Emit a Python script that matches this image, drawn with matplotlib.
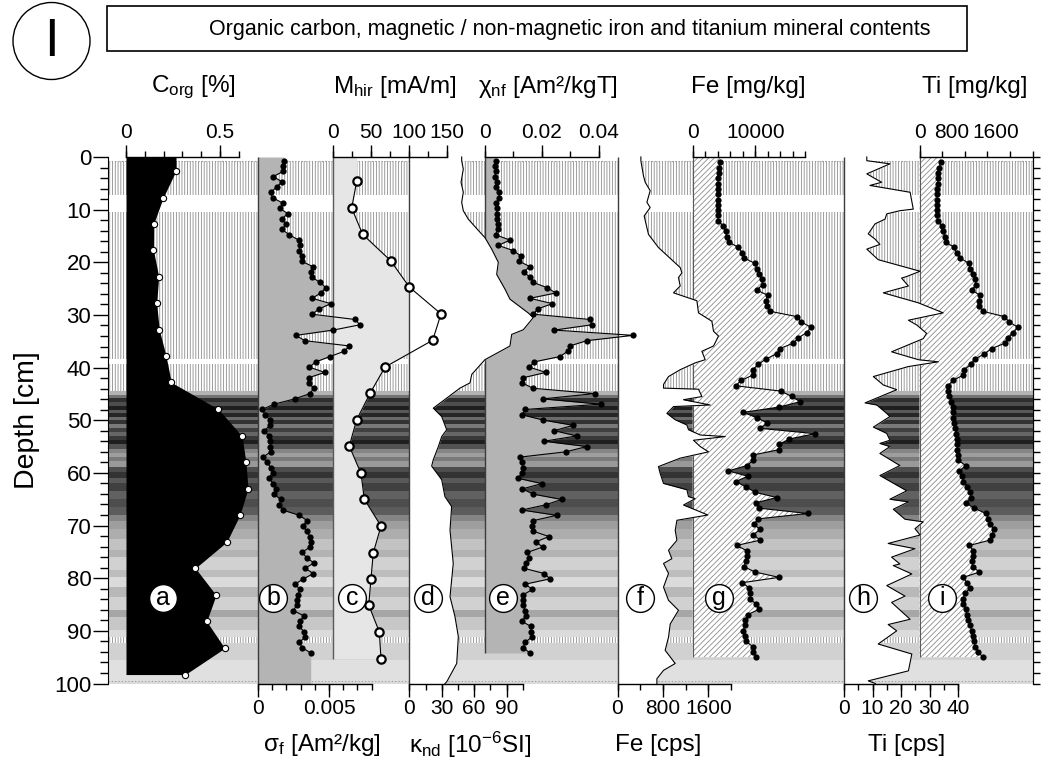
import numpy as np
import matplotlib.pyplot as plt
from matplotlib.patches import Circle, Rectangle

plt.rcParams['font.family'] = ['Liberation Sans', 'DejaVu Sans']
plt.rcParams['mathtext.fontset'] = 'custom'
plt.rcParams['mathtext.rm'] = 'Liberation Sans'
plt.rcParams['mathtext.it'] = 'Liberation Sans:italic'
plt.rcParams['mathtext.bf'] = 'Liberation Sans:bold'
plt.rcParams['hatch.linewidth'] = 0.6
plt.rcParams['hatch.color'] = '#8c8c8c'

# ---------------- data ----------------
corg_depth = [2.6, 7.7, 12.7, 17.7, 22.7, 27.8, 32.8, 37.8, 42.8, 47.9,
              53.0, 58.0, 63.0, 68.0, 73.1, 78.1, 83.2, 88.2, 93.3, 98.3]
corg = [0.266, 0.198, 0.147, 0.146, 0.174, 0.163, 0.177, 0.213, 0.241, 0.491,
        0.617, 0.638, 0.649, 0.606, 0.536, 0.369, 0.479, 0.429, 0.525, 0.315]

# magnetic samples, ~1 cm spacing
mag_depth = np.linspace(0.7, 94.2, 94)
sigma_f = np.array([
    1.81, 1.76, 1.78, 1.08, 1.69, 1.31, 0.89, 1.03, 1.74, 1.55,
    2.09, 1.69, 1.97, 1.71, 2.20, 2.87, 2.96, 2.91, 3.08, 3.08,
    3.85, 3.75, 3.80, 4.37, 4.79, 4.41, 3.82, 5.12, 4.32, 3.80,
    6.83, 7.18, 5.30, 2.68, 3.29, 6.43, 6.08, 5.07, 4.08, 3.61,
    4.70, 3.57, 3.57, 3.92, 3.66, 2.58, 1.13, 0.30, 0.49, 0.85,
    0.85, 0.44, 0.75, 0.85, 0.87, 0.89, 0.37, 0.61, 0.92, 1.03,
    0.75, 1.08, 1.25, 1.13, 1.60, 1.50, 1.74, 2.91, 3.47, 3.15,
    3.43, 3.66, 3.71, 3.66, 3.10, 3.43, 3.94, 3.31, 3.90, 3.20,
    2.61, 2.96, 2.82, 2.77, 2.72, 2.49, 3.24, 2.96, 2.89, 3.26,
    3.33, 2.91, 3.12, 3.71]) * 1e-3
chi_nf = np.array([
    3.77, 3.52, 3.77, 3.52, 4.12, 3.77, 5.04, 5.04, 3.87, 4.12,
    4.12, 4.12, 4.68, 4.47, 3.77, 8.80, 4.68, 10.0, 12.6, 12.0,
    15.8, 13.6, 15.8, 17.0, 21.9, 24.9, 15.8, 23.7, 18.6, 17.0,
    37.0, 37.7, 24.4, 52.2, 35.8, 29.9, 29.1, 26.4, 17.4, 15.6,
    21.4, 13.5, 13.1, 17.0, 38.7, 20.3, 40.7, 14.1, 13.0, 20.5,
    31.1, 24.3, 32.3, 20.8, 35.8, 28.5, 12.3, 13.0, 13.3, 13.0,
    11.6, 20.0, 13.2, 17.0, 27.0, 21.4, 13.0, 25.2, 17.0, 16.7,
    17.0, 22.5, 18.0, 20.3, 14.9, 15.6, 14.5, 13.7, 20.9, 22.9,
    14.2, 16.7, 13.5, 13.5, 13.5, 14.1, 14.4, 12.9, 16.2, 16.2,
    16.5, 14.1, 13.5, 15.8]) * 1e-3

mhir_depth = [4.6, 9.7, 14.7, 19.7, 24.7, 29.8, 34.8, 39.9, 44.9, 49.9,
              54.9, 60.1, 65.0, 70.1, 75.2, 80.1, 85.1, 90.2, 95.3]
mhir = [30.9, 24.3, 38.8, 75.8, 100.4, 142.3, 131.3, 68.3, 48.5, 30.9,
        21.1, 36.6, 41.0, 63.0, 52.8, 49.8, 46.8, 60.8, 63.0]

kappa_depth = [0.0, 0.7, 2.3, 4.8, 6.7, 8.6, 10.2, 11.8, 14.3, 15.3, 17.5, 20.0,
               22.3, 25.1, 27.0, 29.6, 30.5, 32.8, 33.7, 35.9, 38.5, 41.3,
               42.9, 43.9, 45.8, 47.7, 49.3, 51.8, 53.1, 55.0, 57.5, 58.7,
               61.3, 64.5, 66.4, 70.9, 77.2, 83.5, 87.3, 91.1, 96.2, 99.7, 100.0]
kappa = [48.5, 48.5, 50.0, 47.9, 50.0, 48.5, 50.0, 54.6, 65.5, 70.0, 76.3, 82.4,
         80.9, 88.6, 93.2, 110.0, 114.8, 105.6, 94.8, 93.2, 70.0, 57.8,
         56.2, 46.9, 34.6, 22.2, 30.0, 34.6, 30.0, 26.9, 22.2, 20.7,
         30.0, 33.0, 39.2, 37.7, 40.7, 37.7, 42.3, 45.4, 43.9, 34.6, 33.0]

fe_cps_depth = [0.0, 0.7, 3.6, 4.8, 6.4, 8.6, 9.6, 11.2, 14.7, 17.2, 21.0, 22.0,
                22.9, 24.5, 25.8, 27.3, 29.6, 31.2, 33.1, 34.0, 35.9, 36.9,
                38.5, 39.1, 40.4, 41.7, 43.2, 43.9, 44.1, 45.5, 46.1, 47.1,
                47.4, 48.7, 49.9, 50.9, 51.8, 52.8, 53.1, 53.8, 55.0, 56.0,
                57.2, 58.8, 60.1, 62.0, 63.2, 64.5, 64.9, 66.1, 67.0, 68.0,
                69.0, 70.9, 72.8, 74.7, 76.3, 77.2, 79.1, 81.7, 84.2, 86.1,
                88.7, 91.2, 93.7, 96.2, 97.5, 99.1, 100.0]
fe_cps = [412, 412, 458, 488, 576, 518, 576, 470, 546, 722, 1105, 1135,
          1075, 1105, 987, 1399, 1427, 1663, 1692, 1780, 1692, 1487,
          1545, 1369, 1105, 899, 811, 811, 1427, 1487, 1163, 1633,
          987, 870, 1017, 1223, 1251, 1458, 1898, 1339, 1458, 1604,
          1105, 722, 752, 811, 1223, 1251, 1369, 1163, 1369, 1593,
          1047, 1017, 1047, 899, 958, 811, 899, 811, 899, 1075,
          929, 899, 840, 1017, 811, 694, 694]

# XRF samples, ~1 cm spacing
xrf_depth = np.linspace(1.0, 95.0, 94)
fe_mgkg = [
    4360, 4250, 4150, 4090, 4090, 4090, 4090, 4090, 4090, 4090,
    4000, 4090, 4890, 5270, 5430, 5800, 7280, 7920, 8200, 9950,
    10220, 10640, 11020, 11180, 10220, 11980, 11710, 11820, 12350, 16610,
    17300, 18900, 18210, 16870, 16070, 13950, 13420, 11660, 10480, 9590,
    9590, 7720, 6870, 14060, 15820, 17140, 13790, 8080, 10220, 11920,
    10750, 19540, 15430, 13790, 13790, 9680, 9680, 8630, 5690, 8790,
    6870, 8510, 9950, 13420, 10060, 10590, 18370, 10480, 9790, 10750,
    9680, 10800, 7030, 8630, 8630, 8470, 8200, 9950, 13790, 7920,
    9040, 9150, 9150, 10110, 10590, 8790, 8360, 8360, 8080, 8360,
    8470, 9590, 9590, 10110]
ti_mgkg = [
    469, 438, 416, 403, 403, 394, 381, 394, 381, 381,
    381, 403, 491, 527, 564, 586, 763, 823, 896, 1095,
    1117, 1190, 1228, 1250, 1155, 1338, 1316, 1323, 1398, 1876,
    1987, 2173, 2075, 1951, 1892, 1597, 1434, 1228, 1133, 985,
    969, 734, 637, 624, 659, 697, 734, 734, 748, 770,
    785, 808, 823, 823, 840, 845, 858, 1022, 881, 930,
    969, 1060, 1120, 1133, 1029, 1206, 1471, 1522, 1560, 1648,
    1600, 1560, 1106, 1190, 1177, 1155, 1177, 1323, 969, 1044,
    1117, 1007, 969, 969, 1029, 1044, 1080, 1117, 1155, 1177,
    1206, 1228, 1301, 1398]

ti_cps_depth = [0.0, 0.7, 1.3, 3.2, 4.8, 5.4, 6.7, 9.9, 10.2, 10.8, 11.8, 12.7,
                14.6, 15.6, 16.6, 17.5, 19.5, 21.7, 22.7, 23.0, 24.5, 25.8,
                27.7, 29.6, 31.0, 31.9, 33.5, 34.5, 37.0, 38.5, 38.9, 39.8,
                41.7, 43.3, 44.2, 46.7, 47.1, 48.7, 49.3, 51.3, 52.5, 53.8,
                54.4, 55.0, 56.3, 58.6, 60.5, 63.4, 65.0, 65.5, 66.9, 68.8,
                69.3, 70.6, 71.8, 73.4, 74.4, 76.0, 77.3, 77.6, 79.2, 81.4,
                83.4, 84.6, 87.8, 88.8, 90.0, 92.5, 94.4, 97.6, 99.5, 100.0]
ti_cps = [8.0, 8.0, 16.1, 8.0, 13.2, 9.1, 23.2, 24.3, 19.6, 15.0, 14.4, 10.9,
          8.5, 10.9, 12.6, 8.0, 12.0, 26.7, 22.0, 20.2, 22.6, 13.8,
          26.1, 34.8, 22.6, 25.5, 29.0, 27.8, 16.7, 26.1, 33.1, 22.6,
          10.3, 13.8, 18.5, 7.4, 11.5, 15.0, 16.1, 10.3, 15.0, 16.1,
          12.6, 16.1, 12.6, 19.6, 12.6, 22.0, 16.1, 22.6, 17.3, 21.4,
          27.8, 24.9, 26.7, 15.5, 24.9, 16.7, 19.6, 17.3, 23.8, 15.0,
          21.4, 16.7, 23.2, 15.5, 18.5, 12.0, 23.8, 22.6, 8.5, 11.0]

# lithology background: striped intervals and grey bands
stripe_top = [0.7, 10.5, 39.3, 91.2]
stripe_bot = [7.2, 38.4, 44.5, 92.4]
band_top = [44.5, 45.2, 45.8, 46.6, 47.2, 48.0, 48.6, 49.4, 50.0, 50.8, 51.4,
            52.2, 53.0, 53.8, 54.6, 55.4, 56.2, 57.0, 57.8, 58.8, 59.8, 61.0,
            62.0, 63.4, 65.0, 66.4, 68.0, 69.2, 70.6, 72.6, 74.6, 75.9, 78.5,
            79.7, 81.7, 83.6, 86.1, 87.4, 89.9, 92.4, 95.6, 99.5]
band_bot = [45.2, 45.8, 46.6, 47.2, 48.0, 48.6, 49.4, 50.0, 50.8, 51.4, 52.2,
            53.0, 53.8, 54.6, 55.4, 56.2, 57.0, 57.8, 58.8, 59.8, 61.0, 62.0,
            63.4, 65.0, 66.4, 68.0, 69.2, 70.6, 72.6, 74.6, 75.9, 78.5, 79.7,
            81.7, 83.6, 86.1, 87.4, 89.9, 91.2, 95.6, 99.5, 100.0]
band_gray = [0.70, 0.45, 0.18, 0.30, 0.12, 0.35, 0.15, 0.42, 0.20, 0.48, 0.25,
             0.40, 0.22, 0.12, 0.32, 0.52, 0.62, 0.48, 0.60, 0.30, 0.20, 0.35,
             0.25, 0.38, 0.30, 0.36, 0.52, 0.62, 0.68, 0.76, 0.70, 0.82, 0.74,
             0.86, 0.72, 0.82, 0.65, 0.78, 0.86, 0.82, 0.88, 0.86]

# panel scales: (pixel of zero, pixels per unit)
layout = {'a': (126, 188), 'b': (258, 14200), 'c': (333.3, 0.757),
          'd': (409.3, 1.08), 'e': (485, 2840), 'f': (617.5, 0.05675),
          'g': (692.7, 0.00626), 'h': (844, 2.85), 'i': (919.5, 0.0452)}

# side, axis range, labelled ticks, tick labels, tick step
scales = {
    'a': ('top', 0, 0.6, [0, 0.5], ['0', '0.5'], 0.1),
    'b': ('bottom', 0, 0.008, [0, 0.005], ['0', '0.005'], 0.001),
    'c': ('top', 0, 150, [0, 50, 100, 150], ['0', '50', '100', '150'], 25),
    'd': ('bottom', 0, 105, [0, 30, 60, 90], ['0', '30', '60', '90'], 15),
    'e': ('top', 0, 0.04, [0, 0.02, 0.04], ['0', '0.02', '0.04'], 0.01),
    'f': ('bottom', 0, 2000, [0, 800, 1600], ['0', '800', '1600'], 400),
    'g': ('top', 0, 18000, [0, 10000], ['0', '10000'], 2000),
    'h': ('bottom', 0, 40, [0, 10, 20, 30, 40], ['0', '10', '20', '30', '40'], 5),
    'i': ('top', 0, 2500, [0, 800, 1600], ['0', '800', '1600'], 500),
}
titles = {
    'a': (0.36, r'C$_{\mathrm{org}}$ [%]'),
    'b': (0.0045, r'σ$_{\mathrm{f}}$ [Am²/kg]'),
    'c': (81.5, r'M$_{\mathrm{hir}}$ [mA/m]'),
    'd': (56, r'κ$_{\mathrm{nd}}$ [10$^{\mathrm{-6}}$SI]'),
    'e': (0.0222, r'χ$_{\mathrm{nf}}$ [Am²/kgT]'),
    'f': (722, 'Fe [cps]'),
    'g': (8830, 'Fe [mg/kg]'),
    'h': (21.8, 'Ti [cps]'),
    'i': (1228, 'Ti [mg/kg]'),
}
letter_x = {'a': 0.197, 'b': 0.00106, 'c': 24.7, 'd': 17.3, 'e': 0.0063,
            'f': 400, 'g': 4200, 'h': 6.7, 'i': 498}
LETTER_DEPTH = 83.8

TICK_FS = 15
TITLE_FS = 17.5
MAJOR_LEN, MINOR_LEN, PAD = 9, 4.5, 2

# ---------------- figure ----------------
W, H = 1041, 775
fig = plt.figure(figsize=(W / 100, H / 100), dpi=100)
FX0, FX1, FY0, FY1 = 108, 1033, 157, 683.5
frame = [FX0 / W, 1 - FY1 / H, (FX1 - FX0) / W, (FY1 - FY0) / H]

bg = fig.add_axes(frame)
bg.set_xlim(0, 1)
bg.set_ylim(100, 0)
for t, b in zip(stripe_top, stripe_bot):
    bg.axhspan(t, b, facecolor='white', edgecolor='#8c8c8c', hatch='||||||', lw=0)
for t, b, g in zip(band_top, band_bot, band_gray):
    bg.axhspan(t, b, color=str(g), lw=0, antialiased=False)
for d in (0.7, 99.6):
    bg.axhline(d, color='#999999', lw=0.8, ls=(0, (1, 2)))
bg.set_xticks([])
bg.set_yticks(np.arange(0, 101, 10))
bg.set_yticks(np.arange(0, 101, 2), minor=True)
bg.tick_params(axis='y', which='major', length=11, width=1, pad=1, labelsize=16)
bg.tick_params(axis='y', which='minor', length=5.5, width=1)
bg.spines[['top', 'bottom']].set_visible(False)
bg.set_ylabel('Depth [cm]', fontsize=20.5, labelpad=10)
right = bg.secondary_yaxis('right')
right.set_yticks(np.arange(0, 101, 2))
right.tick_params(length=5, width=1, labelright=False)


def layer(name):
    zero, ppu = layout[name]
    ax = fig.add_axes(frame)
    ax.set_xlim((FX0 - zero) / ppu, (FX1 - zero) / ppu)
    ax.set_ylim(100, 0)
    ax.patch.set_visible(False)
    for s in ax.spines.values():
        s.set_visible(False)
    ax.set_xticks([])
    ax.set_yticks([])
    return ax


def extend(depth, vals, bottom=None):
    depth = np.asarray(depth, float)
    vals = np.asarray(vals, float)
    end = depth[-1] if bottom is None else bottom
    return np.r_[0, depth, end], np.r_[vals[0], vals, vals[-1]]


EDGE = '#3c3c3c'

# fills, drawn in stacking order
ax = layer('a')
d, v = extend(corg_depth, corg)
ax.fill_betweenx(d, 0, v, color='black', lw=0)

ax = layer('b')
d, v = extend(mag_depth, sigma_f, bottom=100)
ax.fill_betweenx(d, 0, v, color='#b4b4b4', lw=0)
ax.vlines(0, 0, 100, color=EDGE, lw=1)

ax = layer('c')
d, v = extend(mhir_depth, mhir)
ax.fill_betweenx(d, 0, v, color='#e6e6e6', lw=0)
ax.vlines(0, 0, d[-1], color='#5a5a5a', lw=1)

ax = layer('e')
d, v = extend(mag_depth, chi_nf)
ax.fill_betweenx(d, 0, v, color='#b4b4b4', lw=0)
ax.vlines(0, 0, d[-1], color=EDGE, lw=1)

ax = layer('d')
ax.fill_betweenx(kappa_depth, 0, kappa, color='white', lw=0)
ax.vlines(0, 0, 100, color=EDGE, lw=1)

ax = layer('g')
d, v = extend(xrf_depth, fe_mgkg)
ax.fill_betweenx(d, 0, v, facecolor='white', edgecolor='#8c8c8c', hatch='//////', lw=0)
ax.vlines(0, 0, d[-1], color='#5a5a5a', lw=0.8)

ax = layer('f')
ax.fill_betweenx(fe_cps_depth, 0, fe_cps, color='white', lw=0)
ax.vlines(0, 0, 100, color=EDGE, lw=1)

ax = layer('i')
d, v = extend(xrf_depth, ti_mgkg)
ax.fill_betweenx(d, 0, v, facecolor='white', edgecolor='#8c8c8c', hatch='//////', lw=0)
ax.vlines(0, 0, d[-1], color='#5a5a5a', lw=0.8)

ax = layer('h')
ax.fill_betweenx(ti_cps_depth, 0, ti_cps, color='white', lw=0)
ax.vlines(0, 0, 100, color=EDGE, lw=1)

# curves, points, scales and labels
curves = {
    'a': dict(x=corg, y=corg_depth, ls='none', marker='o', ms=4.5, mfc='white', mec='black', mew=0.8),
    'b': dict(x=sigma_f, y=mag_depth, ls='-', marker='o', ms=4.5, mfc='black', mec='black', mew=0),
    'c': dict(x=mhir, y=mhir_depth, ls='-', marker='o', ms=6, mfc='white', mec='black', mew=1.6),
    'd': dict(x=kappa, y=kappa_depth, ls='-', marker=''),
    'e': dict(x=chi_nf, y=mag_depth, ls='-', marker='o', ms=4.5, mfc='black', mec='black', mew=0),
    'f': dict(x=fe_cps, y=fe_cps_depth, ls='-', marker=''),
    'g': dict(x=fe_mgkg, y=xrf_depth, ls='-', marker='o', ms=4.5, mfc='black', mec='black', mew=0),
    'h': dict(x=ti_cps, y=ti_cps_depth, ls='-', marker=''),
    'i': dict(x=ti_mgkg, y=xrf_depth, ls='-', marker='o', ms=4.5, mfc='black', mec='black', mew=0),
}
# Ti [mg/kg] labels do not sit on its 500-step ticks; nudge them apart (points)
ti_label_shift = [0, -3, 3]

for name in 'abcdefghi':
    ax = layer(name)
    c = dict(curves[name])
    x, y = c.pop('x'), c.pop('y')
    ax.plot(x, y, color='black', lw=0.8, clip_on=False, **c)

    side, lo, hi, ticks, labels, step = scales[name]
    ax.spines[side].set_visible(True)
    ax.spines[side].set_bounds(lo, hi)
    ax.spines[side].set_linewidth(1)
    ax.xaxis.set_ticks_position(side)
    ax.xaxis.remove_overlapping_locs = False
    ax.set_xticks(np.arange(lo, hi + step / 2, step), minor=True)
    ax.tick_params(axis='x', which='minor', length=MINOR_LEN, width=1)
    if name == 'i':
        ax.set_xticks([0], [''])
        ax.tick_params(axis='x', which='major', length=MAJOR_LEN, width=1)
        for val, lab, dx in zip(ticks, labels, ti_label_shift):
            ax.annotate(lab, xy=(val, 1), xycoords=ax.get_xaxis_transform(),
                        xytext=(dx, MAJOR_LEN + PAD), textcoords='offset points',
                        ha='center', va='bottom', fontsize=TICK_FS)
    else:
        ax.set_xticks(ticks, labels)
        ax.tick_params(axis='x', which='major', length=MAJOR_LEN, width=1,
                       pad=PAD, labelsize=TICK_FS)

    tx, label = titles[name]
    ty = 1.133 if side == 'top' else -0.117
    ax.text(tx, ty, label, transform=ax.get_xaxis_transform(),
            ha='center', va='center', fontsize=TITLE_FS)

    lx = letter_x[name]
    ax.plot(lx, LETTER_DEPTH, 'o', ms=20, mfc='white', mec='black', mew=1, zorder=5)
    ax.text(lx, LETTER_DEPTH, name, ha='center', va='center', fontsize=18, zorder=6)

# header
fig.add_artist(Rectangle((107 / W, 1 - 50.7 / H), (966.7 - 107) / W, 44.7 / H,
                         transform=fig.transFigure, fill=False, lw=1.2, ec='black'))
fig.text(570 / W, 1 - 29 / H,
         'Organic carbon, magnetic / non-magnetic iron and titanium mineral contents',
         ha='center', va='center', fontsize=15.5)
fig.add_artist(Circle((0.515, (H - 41) / 100), 0.385, transform=fig.dpi_scale_trans,
                      fill=False, lw=1, ec='black'))
fig.text(51.5 / W, 1 - 42 / H, 'I', ha='center', va='center', fontsize=38)

fig.savefig('out.png', dpi=100)
